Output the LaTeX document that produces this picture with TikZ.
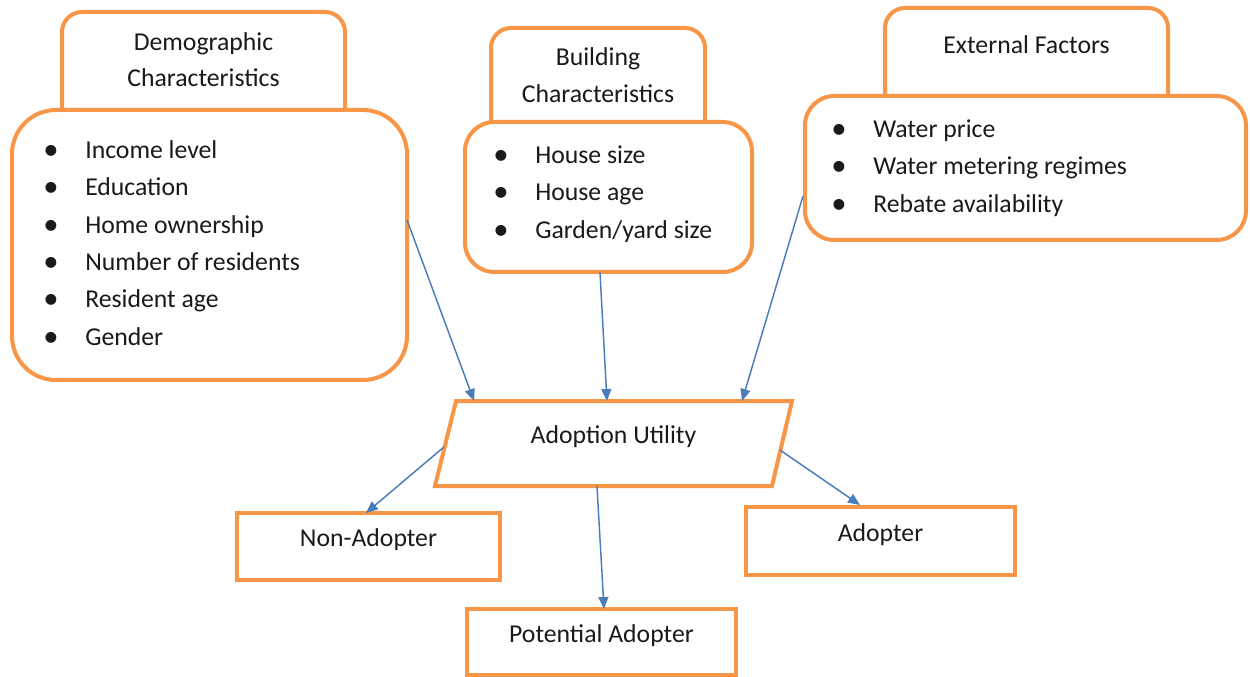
\documentclass[tikz,border=0pt]{standalone}
\usepackage{fontspec}
\setmainfont{Carlito}
\usetikzlibrary{arrows.meta}
\newdimen\pxu \pxu=0.75pt
\definecolor{boxorange}{HTML}{F79646}
\definecolor{arrowblue}{HTML}{4A7EBB}
\definecolor{txtcol}{HTML}{1A1A1A}
\newcommand\bul{\llap{\makebox[42\pxu][l]{\raisebox{-0.5pt}{\fontsize{23}{23}\selectfont\textbullet}}}}
\begin{document}
\begin{tikzpicture}[x=0.75pt,y=-0.75pt,
  font=\fontsize{19.3}{23}\selectfont, text=txtcol,
  obox/.style={draw=boxorange, line width=3pt, fill=white, rounded corners=#1, inner sep=0pt, outer sep=0pt},
  rbox/.style={draw=boxorange, line width=3pt, fill=white, inner sep=0pt, outer sep=0pt, text height=10pt, text depth=10pt},
  htext/.style={anchor=base, inner sep=0pt},
  listitem/.style={anchor=base west, inner sep=0pt},
  conn/.style={draw=arrowblue, line width=1.1pt, -{Triangle[length=9pt,width=7.5pt]}}]
\useasboundingbox (0,0) rectangle (1250,677);
\fill[white] (0,0) rectangle (1250,677);

% header boxes (drawn first, partly hidden)
\node[obox=15pt, minimum width=283\pxu, minimum height=118\pxu] (demhead) at (203.5,71) {};
\node[obox=15pt, minimum width=214\pxu, minimum height=112\pxu] (bldhead) at (598,84) {};
\node[obox=15pt, minimum width=283\pxu, minimum height=112\pxu] (exthead) at (1026.5,64) {};

% header texts
\node[htext] (demt1) at (203.5,51) {Demographic};
\node[htext] (demt2) at (203.5,87) {Characteristics};
\node[htext] (bldt1) at (598,66) {Building};
\node[htext] (bldt2) at (598,103) {Characteristics};
\node[htext] (extt1) at (1026.5,54) {External Factors};

% main list boxes
\node[obox=33pt, minimum width=395\pxu, minimum height=270\pxu] (dem) at (209.5,245) {};
\node[obox=22pt, minimum width=287\pxu, minimum height=150\pxu] (bld) at (608.5,197) {};
\node[obox=22pt, minimum width=441\pxu, minimum height=144\pxu] (ext) at (1025.5,168) {};

% list items
\node[listitem] (d1) at (85,159) {\bul Income level};
\node[listitem] (d2) at (85,196) {\bul Education};
\node[listitem] (d3) at (85,234) {\bul Home ownership};
\node[listitem] (d4) at (85,271) {\bul Number of residents};
\node[listitem] (d5) at (85,308) {\bul Resident age};
\node[listitem] (d6) at (85,346) {\bul Gender};

\node[listitem] (b1) at (535,164) {\bul House size};
\node[listitem] (b2) at (535,201) {\bul House age};
\node[listitem] (b3) at (535,239) {\bul Garden/yard size};

\node[listitem] (e1) at (873,138) {\bul Water price};
\node[listitem] (e2) at (873,175) {\bul Water metering regimes};
\node[listitem] (e3) at (873,213) {\bul Rebate availability};

% adoption utility (parallelogram)
\node[inner sep=0pt, outer sep=0pt, minimum width=357\pxu, minimum height=85\pxu, text height=10pt, text depth=10pt] (au) at (613.5,443.5) {Adoption Utility};
\draw[draw=boxorange, line width=3pt, line join=miter]
  ([xshift=15.75pt]au.north west) -- (au.north east) -- ([xshift=-15pt]au.south east) -- (au.south west) -- cycle;

% outcome boxes
\node[rbox, minimum width=263\pxu, minimum height=67\pxu] (non) at (368.5,546.5) {Non-Adopter};
\node[rbox, minimum width=269\pxu, minimum height=66\pxu] (pot) at (601.5,642) {Potential Adopter};
\node[rbox, minimum width=269\pxu, minimum height=68\pxu] (adp) at (880.5,541) {Adopter};

% connectors
\draw[conn] ([yshift=18.75pt]dem.east) -- ([xshift=-104.6pt]au.north);
\draw[conn] ([xshift=-6.4pt]bld.south) -- ([xshift=-4.9pt]au.north);
\draw[conn] ([xshift=-1.5pt,yshift=-21pt]ext.west) -- ([xshift=96.4pt]au.north);
\draw[conn] ([xshift=6.75pt,yshift=-2.6pt]au.west) -- ([xshift=-1.9pt]non.north);
\draw[conn] ([xshift=-9pt,yshift=-4.9pt]au.east) -- ([xshift=-15.4pt,yshift=1.5pt]adp.north);
\draw[conn] ([xshift=-12.4pt]au.south) -- ([xshift=1.9pt]pot.north);
\end{tikzpicture}
\end{document}
